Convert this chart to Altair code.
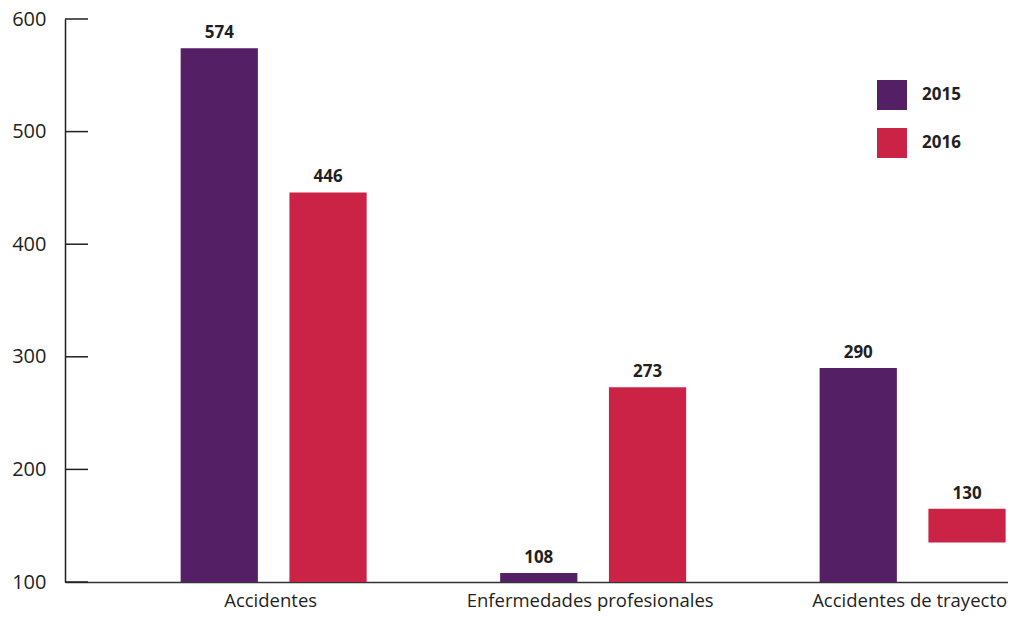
import altair as alt
import pandas as pd

categories = ["Accidentes", "Accidentes", "Enfermedades profesionales", "Enfermedades profesionales",
              "Accidentes de trayecto", "Accidentes de trayecto"]
years = ["2015", "2016", "2015", "2016", "2015", "2016"]
labels = [574, 446, 108, 273, 290, 130]
bar_top = [574, 446, 108, 273, 290, 165]
bar_base = [100, 100, 100, 100, 100, 135]
y_ticks = [100, 200, 300, 400, 500, 600]
cat_order = ["Accidentes", "Enfermedades profesionales", "Accidentes de trayecto"]
year_order = ["2015", "2016"]
colors = ["#551F65", "#CB2346"]

FONT = "Open Sans"
INK = "#231F20"

df = pd.DataFrame({"cat": categories, "year": years, "label": labels,
                   "top": bar_top, "base": bar_base})
ticks_df = pd.DataFrame({"t": y_ticks})

x = alt.X("cat:N", sort=cat_order, title=None,
          scale=alt.Scale(paddingInner=0.4178, paddingOuter=0.1847, align=0.98),
          axis=alt.Axis(ticks=False, labelAngle=0, labelFontSize=18.5, labelFont=FONT,
                        labelColor=INK, labelPadding=9, labelLimit=0, labelOffset=-3,
                        domainColor="#333333", domainWidth=1.5))
xo = alt.XOffset("year:N", sort=year_order,
                 scale=alt.Scale(paddingInner=0.29, paddingOuter=0))
yscale = alt.Scale(domain=[100, 600], zero=False, nice=False)

bars = alt.Chart(df).mark_bar().encode(
    x=x, xOffset=xo,
    y=alt.Y("top:Q", scale=yscale, title=None,
            axis=alt.Axis(values=y_ticks, ticks=False, grid=False, labelFontSize=20,
                          labelFont=FONT, labelColor=INK, labelPadding=19,
                          domainColor=INK, domainWidth=1.5)),
    y2="base:Q",
    color=alt.Color("year:N", sort=year_order,
                    scale=alt.Scale(domain=year_order, range=colors),
                    legend=alt.Legend(title=None, orient="none", legendX=812, legendY=61,
                                      symbolType="square", symbolSize=900,
                                      symbolStrokeWidth=0, labelFontSize=17,
                                      labelFontWeight="bold", labelFont=FONT,
                                      labelColor=INK, labelOffset=15, rowPadding=18,
                                      padding=0)),
)

text = alt.Chart(df).mark_text(fontSize=17, fontWeight="bold", font=FONT, color=INK,
                               baseline="alphabetic", dy=-10).encode(
    x=alt.X("cat:N", sort=cat_order), xOffset=xo,
    y=alt.Y("top:Q", scale=yscale),
    text="label:Q",
)

tick_rules = alt.Chart(ticks_df).mark_rule(color=INK, strokeWidth=1.5).encode(
    x=alt.value(0), x2=alt.value(23),
    y=alt.Y("t:Q", scale=yscale),
)

chart = alt.layer(bars, text, tick_rules).properties(
    width=943, height=563,
    autosize=alt.AutoSizeParams(type="none"),
    padding={"left": 57, "top": 11, "right": 0, "bottom": 30},
    background="white",
).configure_view(stroke=None)

chart.save("out.html", embed_options={"renderer": "svg", "actions": False})
